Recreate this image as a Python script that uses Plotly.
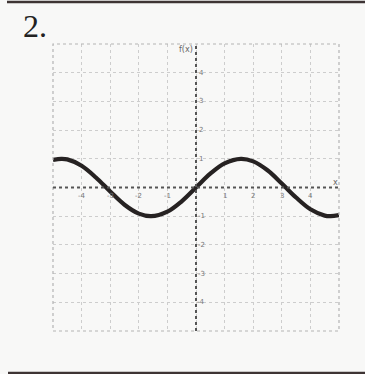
import plotly.graph_objects as go

# Sampled points of the curve f(x)
x_vals = [-5.0, -4.71, -4.5, -4.0, -3.5, -3.0, -2.5, -2.0, -1.57, -1.0, -0.5,
          0.0, 0.5, 1.0, 1.57, 2.0, 2.5, 3.0, 3.5, 4.0, 4.5, 4.71, 5.0]
y_vals = [0.96, 1.0, 0.98, 0.76, 0.35, -0.14, -0.60, -0.91, -1.0, -0.84, -0.48,
          0.0, 0.48, 0.84, 1.0, 0.91, 0.60, 0.14, -0.35, -0.76, -0.98, -1.0, -0.96]

x_ticks = [-4, -3, -2, -1, 1, 2, 3, 4]
y_ticks = [4, 3, 2, 1, -1, -2, -3, -4]
problem_label = "2."

W, H = 365, 374
L, R, T, B = 53, 26, 44, 43
pw, ph = W - L - R, H - T - B


def px_to_paper_x(px):
    return (px - L) / pw


def px_to_paper_y(py):
    return (H - B - py) / ph


fig = go.Figure()
fig.add_trace(go.Scatter(
    x=x_vals, y=y_vals, mode="lines",
    line=dict(color="#262222", width=4.2, shape="spline", smoothing=1.0),
    hoverinfo="skip", showlegend=False,
))

shapes = [
    # dotted plot frame
    dict(type="rect", xref="paper", yref="paper", x0=0, y0=0, x1=1, y1=1,
         line=dict(color="#b4b4b4", width=1.2, dash="dot")),
    # axes
    dict(type="line", xref="x", yref="y", x0=-5, y0=0, x1=5, y1=0,
         line=dict(color="#555", width=2, dash="dot")),
    dict(type="line", xref="x", yref="y", x0=0, y0=-5, x1=0, y1=5,
         line=dict(color="#555", width=2, dash="dot")),
    # page rules
    dict(type="line", xref="paper", yref="paper",
         x0=px_to_paper_x(7), x1=px_to_paper_x(366),
         y0=px_to_paper_y(2), y1=px_to_paper_y(2),
         line=dict(color="#3e3434", width=2.5)),
    dict(type="line", xref="paper", yref="paper",
         x0=px_to_paper_x(8), x1=px_to_paper_x(366),
         y0=px_to_paper_y(373), y1=px_to_paper_y(373),
         line=dict(color="#3e3434", width=2.5)),
]

annotations = []
for t in x_ticks:
    annotations.append(dict(x=t, y=0, xref="x", yref="y", text=str(t),
                            showarrow=False, yshift=-8,
                            font=dict(size=7, color="#777", family="DejaVu Sans")))
for t in y_ticks:
    annotations.append(dict(x=0, y=t, xref="x", yref="y", text=str(t),
                            showarrow=False, xshift=5,
                            font=dict(size=7, color="#777", family="DejaVu Sans")))
annotations.append(dict(x=0, y=5, xref="x", yref="y", text="f(x)",
                        showarrow=False, xshift=-10, yshift=-5,
                        font=dict(size=8, color="#666", family="DejaVu Sans")))
annotations.append(dict(x=5, y=0, xref="x", yref="y", text="x",
                        showarrow=False, xshift=-4, yshift=5,
                        font=dict(size=8, color="#666", family="DejaVu Sans")))
annotations.append(dict(x=px_to_paper_x(21), y=px_to_paper_y(26),
                        xref="paper", yref="paper", text=problem_label,
                        showarrow=False, xanchor="left", yanchor="middle",
                        font=dict(size=32, color="#222",
                                  family="Liberation Serif")))

axis_common = dict(range=[-5, 5], dtick=1, tick0=-5, showgrid=True,
                   gridcolor="#cdcdcd", gridwidth=1, griddash="dot",
                   zeroline=False, showticklabels=False, ticks="",
                   showline=False, fixedrange=True)

fig.update_layout(
    width=W, height=H,
    margin=dict(l=L, r=R, t=T, b=B),
    paper_bgcolor="#f8f8f7", plot_bgcolor="#f8f8f7",
    xaxis=axis_common, yaxis=axis_common,
    shapes=shapes, annotations=annotations,
    showlegend=False,
)

fig.write_html("out.html")
